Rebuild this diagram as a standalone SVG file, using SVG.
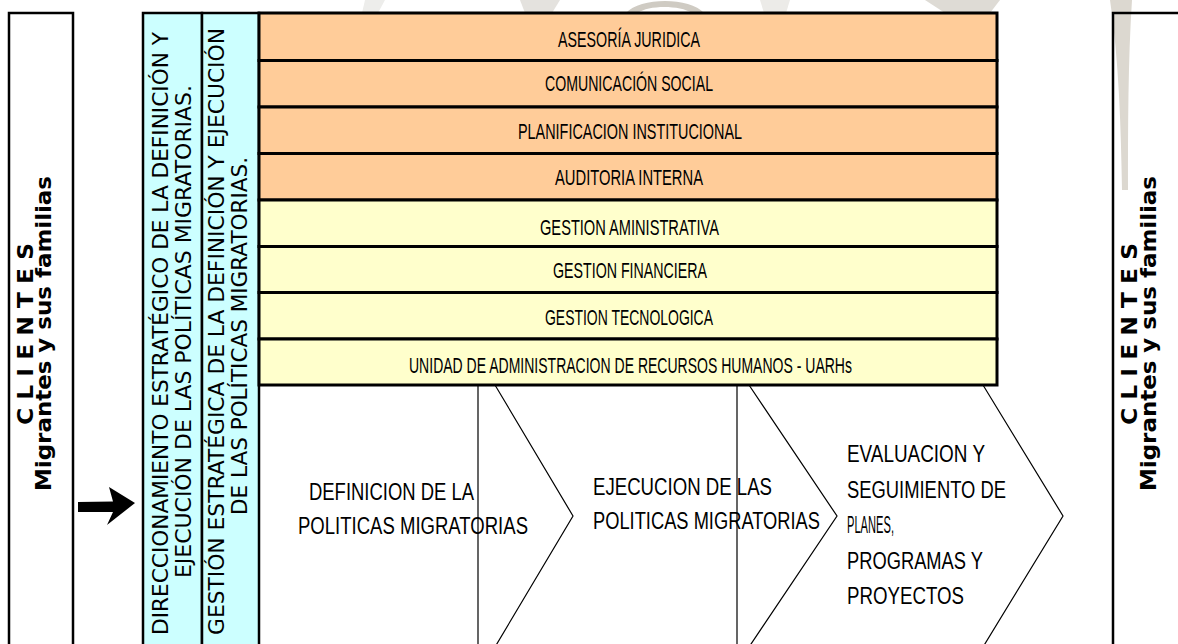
<svg xmlns="http://www.w3.org/2000/svg" width="1178" height="644" viewBox="0 0 1178 644">
<style>
.frame{fill:none;stroke:#000;stroke-width:2.5}
.rowo{fill:#FFCC99;stroke:#000;stroke-width:3}
.rowy{fill:#FFFFCC;stroke:#000;stroke-width:3}
.blue{fill:#CCFFFF;stroke:#000;stroke-width:2.5}
.chev{fill:none;stroke:#000;stroke-width:1.2}
.wm{stroke:none}
.rt{font-family:"Liberation Sans",Arial,sans-serif;font-size:22px;fill:#000;text-anchor:middle}
.pt{font-family:"Liberation Sans",Arial,sans-serif;font-size:23px;fill:#000}
.vt{font-family:"DejaVu Sans",Verdana,sans-serif;font-size:22px;fill:#000;text-anchor:middle}
.ct{font-family:"DejaVu Sans",Verdana,sans-serif;font-weight:bold;font-size:22px;fill:#000;text-anchor:middle}
</style>
<rect x="0" y="0" width="1178" height="644" fill="#fff"/>
<g id="watermark">
<path class="wm" d="M365,0 L385,0 L378,13 L362,13 Z" fill="#ededeb"/>
<path class="wm" d="M520,0 L560,0 L552,13 L525,13 Z" fill="#e4e2de"/>
<path class="wm" d="M626,13 C640,-3 690,-3 704,13 L692,13 C680,5 648,5 638,13 Z" fill="#cfcbc3"/>
<path class="wm" d="M760,0 L790,0 L786,13 L764,13 Z" fill="#ecebe8"/>
<path class="wm" d="M925,0 L1000,0 L990,13 L945,13 Z" fill="#dedbd5"/>
<path class="wm" d="M1110,0 L1132,0 C1128,60 1128,130 1128,190 L1122,190 C1121,130 1119,60 1110,0 Z" fill="#dcd8d0"/>
</g>
<g id="clientes-left">
<rect class="frame" x="9" y="13" width="64" height="645"/>
<text class="ct" transform="translate(33,334) rotate(-90)" textLength="182" lengthAdjust="spacingAndGlyphs">C L I E N T E S</text>
<text class="ct" transform="translate(51,333.5) rotate(-90)" textLength="315" lengthAdjust="spacingAndGlyphs">Migrantes y sus familias</text>
</g>
<g id="arrow">
<polygon points="78,502 113,501.5 109,487 135,503 107,525 113,512 78,512" fill="#000"/>
</g>
<g id="direccionamiento">
<rect class="blue" x="143" y="13" width="59" height="645"/>
<text class="vt" transform="translate(168,333.5) rotate(-90)" textLength="603" lengthAdjust="spacingAndGlyphs">DIRECCIONAMIENTO ESTRATÉGICO DE LA DEFINICIÓN Y</text>
<text class="vt" transform="translate(190.5,331.5) rotate(-90)" textLength="493" lengthAdjust="spacingAndGlyphs">EJECUCIÓN DE LAS POLÍTICAS MIGRATORIAS.</text>
</g>
<g id="gestion-estrategica">
<rect class="blue" x="202" y="13" width="57" height="645"/>
<text class="vt" transform="translate(224,331.5) rotate(-90)" textLength="607" lengthAdjust="spacingAndGlyphs">GESTIÓN ESTRATÉGICA DE LA DEFINICIÓN Y EJECUCIÓN</text>
<text class="vt" transform="translate(247,336) rotate(-90)" textLength="358" lengthAdjust="spacingAndGlyphs">DE LAS POLÍTICAS MIGRATORIAS.</text>
</g>
<g id="connectors">
<polygon class="chev" points="259,385 495,385 573,516 495,647 259,647"/>
<polygon class="chev" points="478,385 749,385 837,516 749,647 478,647"/>
<polygon class="chev" points="737,385 983,385 1063,516 983,647 737,647"/>
</g>
<g id="definicion">
<text class="pt" x="309" y="500" textLength="165" lengthAdjust="spacingAndGlyphs">DEFINICION DE LA</text>
<text class="pt" x="298" y="534" textLength="230" lengthAdjust="spacingAndGlyphs">POLITICAS MIGRATORIAS</text>
</g>
<g id="ejecucion">
<text class="pt" x="593" y="495" textLength="179" lengthAdjust="spacingAndGlyphs">EJECUCION DE LAS</text>
<text class="pt" x="593" y="529" textLength="227" lengthAdjust="spacingAndGlyphs">POLITICAS MIGRATORIAS</text>
</g>
<g id="evaluacion">
<text class="pt" x="847" y="462" textLength="138" lengthAdjust="spacingAndGlyphs">EVALUACION Y</text>
<text class="pt" x="847" y="498" textLength="159" lengthAdjust="spacingAndGlyphs">SEGUIMIENTO DE</text>
<text class="pt" x="847" y="533" textLength="47" lengthAdjust="spacingAndGlyphs">PLANES,</text>
<text class="pt" x="847" y="569" textLength="136" lengthAdjust="spacingAndGlyphs">PROGRAMAS Y</text>
<text class="pt" x="847" y="604" textLength="117" lengthAdjust="spacingAndGlyphs">PROYECTOS</text>
</g>
<g id="asesoria">
<rect class="rowo" x="259" y="13" width="738" height="47.5"/>
<text class="rt" x="629" y="46.5" textLength="142" lengthAdjust="spacingAndGlyphs">ASESORÍA JURIDICA</text>
</g>
<g id="comunicacion">
<rect class="rowo" x="259" y="60.5" width="738" height="46.5"/>
<text class="rt" x="629" y="91" textLength="168" lengthAdjust="spacingAndGlyphs">COMUNICACIÓN SOCIAL</text>
</g>
<g id="planificacion">
<rect class="rowo" x="259" y="107" width="738" height="46.5"/>
<text class="rt" x="630" y="139.3" textLength="224" lengthAdjust="spacingAndGlyphs">PLANIFICACION INSTITUCIONAL</text>
</g>
<g id="auditoria">
<rect class="rowo" x="259" y="153.5" width="738" height="46.5"/>
<text class="rt" x="629" y="185" textLength="148" lengthAdjust="spacingAndGlyphs">AUDITORIA INTERNA</text>
</g>
<g id="gestion-administrativa">
<rect class="rowy" x="259" y="200" width="738" height="46.5"/>
<text class="rt" x="629.5" y="235" textLength="179" lengthAdjust="spacingAndGlyphs">GESTION AMINISTRATIVA</text>
</g>
<g id="gestion-financiera">
<rect class="rowy" x="259" y="246.5" width="738" height="46"/>
<text class="rt" x="630" y="278.3" textLength="154" lengthAdjust="spacingAndGlyphs">GESTION FINANCIERA</text>
</g>
<g id="gestion-tecnologica">
<rect class="rowy" x="259" y="292.5" width="738" height="46.5"/>
<text class="rt" x="629" y="325" textLength="168" lengthAdjust="spacingAndGlyphs">GESTION TECNOLOGICA</text>
</g>
<g id="uarhs">
<rect class="rowy" x="259" y="339" width="738" height="46"/>
<text class="rt" x="630.5" y="373" textLength="443" lengthAdjust="spacingAndGlyphs">UNIDAD DE ADMINISTRACION DE RECURSOS HUMANOS - UARHs</text>
</g>
<g id="clientes-right">
<rect class="frame" x="1113" y="13" width="80" height="645"/>
<text class="ct" transform="translate(1137,334) rotate(-90)" textLength="182" lengthAdjust="spacingAndGlyphs">C L I E N T E S</text>
<text class="ct" transform="translate(1156,333.5) rotate(-90)" textLength="315" lengthAdjust="spacingAndGlyphs">Migrantes y sus familias</text>
</g>
</svg>
